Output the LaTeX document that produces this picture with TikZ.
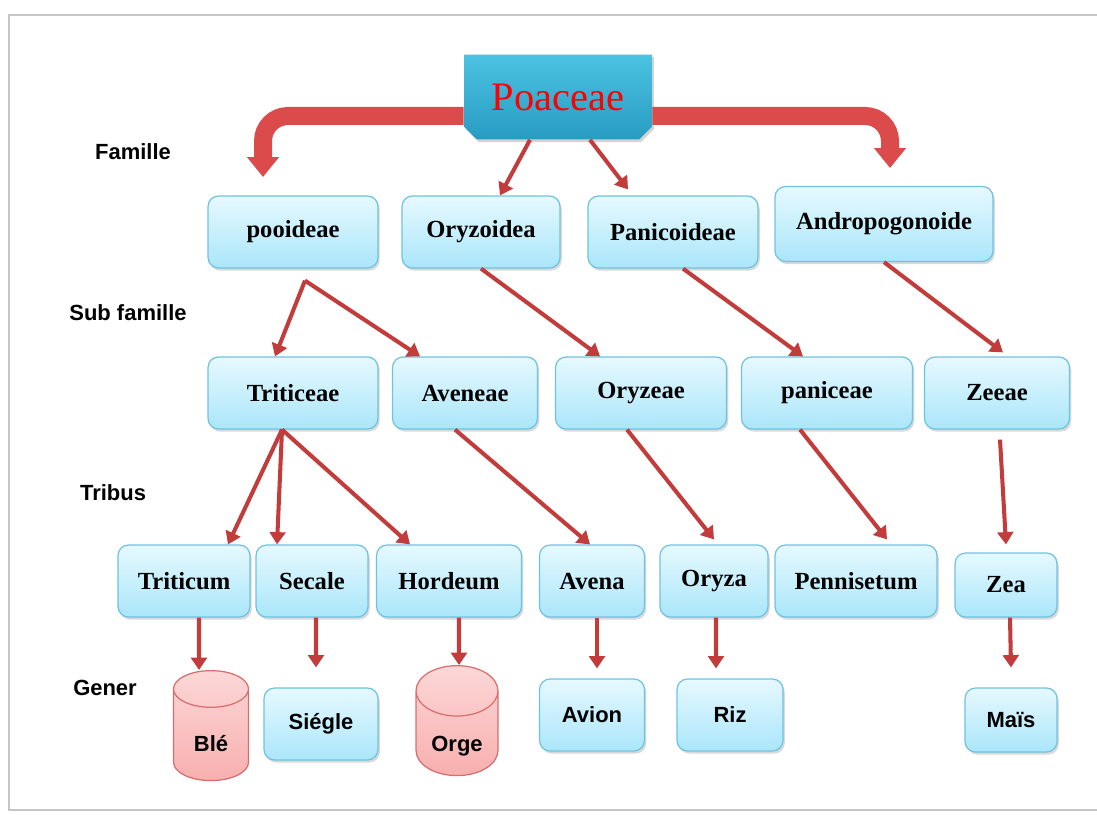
\documentclass[tikz,border=0pt]{standalone}
\usepackage{fontspec}
\setmainfont{Liberation Serif}
\setsansfont{Liberation Sans}
\usetikzlibrary{arrows.meta,shapes.geometric,shapes.misc,shadows}

\definecolor{boxtop}{RGB}{230,249,255}
\definecolor{boxbot}{RGB}{170,230,250}
\definecolor{boxline}{RGB}{110,195,225}
\definecolor{linkred}{RGB}{195,60,60}
\definecolor{bigred}{RGB}{220,75,75}
\definecolor{poatop}{RGB}{75,195,225}
\definecolor{poabot}{RGB}{40,155,195}
\definecolor{cyltop}{RGB}{252,215,215}
\definecolor{cylbot}{RGB}{248,175,175}
\definecolor{cylline}{RGB}{215,110,110}

\tikzset{
  taxon/.style={draw=boxline, line width=0.7pt, rounded corners=6pt,
    top color=boxtop, bottom color=boxbot,
    drop shadow={opacity=0.3, shadow xshift=1pt, shadow yshift=-1.5pt},
    font=\bfseries\fontsize{14}{16}\selectfont, minimum height=1.44cm},
  genre/.style={taxon, font=\sffamily\bfseries\fontsize{12.5}{14}\selectfont},
  tonneau/.style={cylinder, shape border rotate=90, aspect=0.8,
    draw=cylline, line width=0.7pt, top color=cyltop, bottom color=cylbot,
    minimum width=1.5cm, minimum height=2.2cm, text height=0.45cm, text depth=0pt,
    font=\sffamily\bfseries\fontsize{12.5}{14}\selectfont},
  rang/.style={font=\sffamily\bfseries\fontsize{12.5}{14}\selectfont},
  link/.style={draw=linkred, line width=2.3pt, -{Triangle[width=9pt,length=7pt]}},
  bigarrow/.style={draw=bigred, line width=0.36cm, rounded corners=0.5cm,
    -{Triangle[width=0.62cm,length=0.4cm]}},
}

\begin{document}
\begin{tikzpicture}[x=0.02cm,y=-0.02cm]
\useasboundingbox (0,0) rectangle (1097,814);
\draw[gray!45, line width=1.5pt] (1097,810) -- (9,810) -- (9,15) -- (1097,15);

% rangs
\node[rang] (lfam) at (133,152) {Famille};
\node[rang] (lsub) at (128,313) {Sub famille};
\node[rang] (ltri) at (113,493) {Tribus};
\node[rang] (lgen) at (105,688) {Gener};

% famille
\node[chamfered rectangle, chamfered rectangle corners={south west,south east},
  chamfered rectangle xsep=0.15cm, top color=poatop, bottom color=poabot,
  drop shadow={opacity=0.35, shadow xshift=1pt, shadow yshift=-1.5pt},
  minimum width=3.76cm, minimum height=1.7cm, text=red,
  font=\fontsize{23}{26}\selectfont] (poa) at (558,97) {Poaceae};

% sub famille
\node[taxon, minimum width=3.4cm] (pooid) at (293,232) {pooideae};
\node[taxon, minimum width=3.16cm] (oryzo) at (481,232) {Oryzoidea};
\node[taxon, minimum width=3.4cm] (panico) at (673,232) {Panicoideae};
\node[taxon, minimum width=4.36cm, minimum height=1.5cm] (andro) at (884,224) {Andropogonoide};

% tribus
\node[taxon, minimum width=3.4cm] (trit) at (293,393) {Triticeae};
\node[taxon, minimum width=2.9cm] (aven) at (465,393) {Aveneae};
\node[taxon, minimum width=3.42cm] (oryzee) at (641,393) {Oryzeae};
\node[taxon, minimum width=3.42cm] (panic) at (827,393) {paniceae};
\node[taxon, minimum width=2.9cm] (zeeae) at (997,393) {Zeeae};

% genres
\node[taxon, minimum width=2.64cm] (triticum) at (184,581) {Triticum};
\node[taxon, minimum width=2.24cm] (secale) at (312,581) {Secale};
\node[taxon, minimum width=2.9cm] (hordeum) at (449,581) {Hordeum};
\node[taxon, minimum width=2.1cm] (avena) at (592,581) {Avena};
\node[taxon, minimum width=2.16cm] (oryza) at (714,581) {Oryza};
\node[taxon, minimum width=3.24cm] (pennis) at (856,581) {Pennisetum};
\node[taxon, minimum width=2.04cm, minimum height=1.28cm] (zea) at (1006,585) {Zea};

% especes
\node[tonneau] (ble) at (211,740) {Blé};
\node[genre, minimum width=2.28cm] (siegle) at (321,724) {Siégle};
\node[tonneau, minimum width=1.64cm] (orge) at (457,740) {Orge};
\node[genre, minimum width=2.1cm] (avion) at (592,715) {Avion};
\node[genre, minimum width=2.12cm] (riz) at (730,715) {Riz};
\node[genre, minimum width=1.84cm, minimum height=1.28cm] (mais) at (1011,720) {Maïs};

% grandes fleches
\coordinate (gtip) at (263,177);
\coordinate (dtip) at (890,168);
\draw[bigarrow] ([yshift=-0.38cm]poa.west) -| (gtip);
\draw[bigarrow] ([yshift=-0.38cm]poa.east) -| (dtip);

\draw[link] ([xshift=-0.56cm]poa.south) -- ([xshift=0.38cm]oryzo.north);
\draw[link] ([xshift=0.64cm]poa.south) -- ([xshift=-0.9cm,yshift=0.12cm]panico.north);

\draw[link] ([xshift=0.24cm,yshift=-0.24cm]pooid.south) -- ([xshift=-0.36cm]trit.north);
\draw[link] ([xshift=0.24cm,yshift=-0.24cm]pooid.south) -- ([xshift=-0.9cm]aven.north);
\draw[link] (oryzo.south) -- ([xshift=-0.82cm]oryzee.north);
\draw[link] ([xshift=0.2cm]panico.south) -- ([xshift=-0.48cm]panic.north);
\draw[link] (andro.south) -- ([xshift=0.12cm,yshift=0.08cm]zeeae.north);

\draw[link] ([xshift=-0.22cm]trit.south) -- ([xshift=0.88cm]triticum.north);
\draw[link] ([xshift=-0.22cm]trit.south) -- ([xshift=-0.7cm]secale.north);
\draw[link] ([xshift=-0.22cm]trit.south) -- ([xshift=-0.78cm]hordeum.north);
\draw[link] ([xshift=-0.2cm]aven.south) -- ([xshift=-0.04cm]avena.north);
\draw[link] ([xshift=-0.28cm]oryzee.south) -- ([yshift=0.1cm]oryza.north);
\draw[link] ([xshift=-0.54cm]panic.south) -- ([xshift=0.62cm,yshift=0.1cm]pennis.north);
\draw[link] ([xshift=0.06cm,yshift=-0.2cm]zeeae.south) -- ([yshift=0.16cm]zea.north);

\draw[link] ([xshift=0.3cm]triticum.south) -- ([xshift=-0.24cm]ble.north);
\draw[link] ([xshift=0.08cm]secale.south) -- ([xshift=-0.1cm,yshift=0.4cm]siegle.north);
\draw[link] ([xshift=0.2cm]hordeum.south) -- ([xshift=0.04cm]orge.north);
\draw[link] ([xshift=0.1cm]avena.south) -- ([xshift=0.1cm,yshift=0.2cm]avion.north);
\draw[link] ([xshift=0.04cm]oryza.south) -- ([xshift=-0.28cm,yshift=0.2cm]riz.north);
\draw[link] ([xshift=0.08cm]zea.south) -- ([yshift=0.4cm]mais.north);

\end{tikzpicture}
\end{document}
